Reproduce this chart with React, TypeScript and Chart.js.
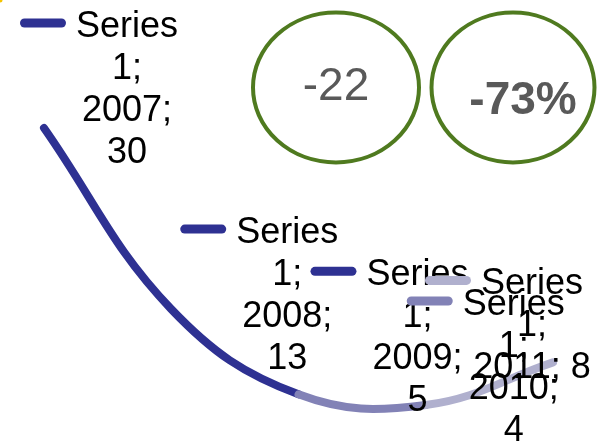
import React, { useEffect, useRef } from "react";
import { Chart, registerables } from "chart.js";

Chart.register(...registerables);

const seriesName = "Series 1";
const categories = ["2007", "2008", "2009", "2010", "2011"];
const values = [30, 13, 5, 4, 8];
const pointColors = ["#2E3192", "#2E3192", "#2E3192", "#8282B6", "#B0B0CE"];
// label anchor offsets (center of first text line relative to the point)
const labelOffsets = [
  [83, -104],
  [116, -79],
  [119, -122],
  [88, -103],
  [-21, -81],
];
// whether the value is kept on the same line as the category
const labelJoinLast = [false, false, false, false, true];
const deltaAbsolute = "-22";
const deltaPercent = "-73%";

const FONT = '"Liberation Sans", Arial, sans-serif';

const overlayPlugin = {
  id: "overlay",
  afterDatasetsDraw(chart: any) {
    const ctx = chart.ctx as CanvasRenderingContext2D;
    const meta = chart.getDatasetMeta(0);
    ctx.save();
    // circles
    const circles = [
      { cx: 336, cy: 87.5, rx: 83, ry: 75, text: deltaAbsolute, bold: false, ty: 84 },
      { cx: 513, cy: 87.5, rx: 81.5, ry: 75, text: deltaPercent, bold: true, ty: 97.5 },
    ];
    circles.forEach((c) => {
      ctx.beginPath();
      ctx.ellipse(c.cx, c.cy, c.rx, c.ry, 0, 0, Math.PI * 2);
      ctx.lineWidth = 4;
      ctx.strokeStyle = "#4F7A1F";
      ctx.stroke();
      ctx.font = `${c.bold ? "bold " : ""}46px ${FONT}`;
      ctx.fillStyle = "#595959";
      ctx.textAlign = "center";
      ctx.textBaseline = "alphabetic";
      ctx.fillText(c.text, c.cx + (c.bold ? 10 : 0), c.ty + 0.358 * 46);
    });

    // data labels
    const size = 36;
    const lh = 42;
    ctx.font = `${size}px ${FONT}`;
    ctx.textBaseline = "alphabetic";
    meta.data.forEach((pt: any, i: number) => {
      const [name, num] = seriesName.split(" ");
      const lines = labelJoinLast[i]
        ? [name, `${num};`, `${categories[i]}; ${values[i]}`]
        : [name, `${num};`, `${categories[i]};`, `${values[i]}`];
      const cx = pt.x + labelOffsets[i][0];
      const cy = pt.y + labelOffsets[i][1];
      // key
      const w0 = ctx.measureText(lines[0]).width;
      const keyRight = cx - w0 / 2 - 10;
      ctx.beginPath();
      ctx.moveTo(keyRight - 46 + 4.5, cy - 1);
      ctx.lineTo(keyRight - 4.5, cy - 1);
      ctx.lineWidth = 9;
      ctx.lineCap = "round";
      ctx.strokeStyle = pointColors[i];
      ctx.stroke();
      ctx.fillStyle = "#000000";
      ctx.textAlign = "center";
      lines.forEach((t, k) => {
        ctx.fillText(t, cx, cy + k * lh + 0.358 * size);
      });
    });

    // tiny yellow mark in corner
    ctx.beginPath();
    ctx.arc(0, 0, 2.5, 0, Math.PI * 2);
    ctx.fillStyle = "#F5C400";
    ctx.fill();
    ctx.restore();
  },
};

export default function App() {
  const ref = useRef<HTMLCanvasElement | null>(null);
  useEffect(() => {
    if (!ref.current) return;
    const chart = new Chart(ref.current, {
      type: "line",
      data: {
        labels: categories,
        datasets: [
          {
            label: seriesName,
            data: values,
            borderColor: pointColors[0],
            borderWidth: 8,
            borderCapStyle: "round",
            borderJoinStyle: "round",
            tension: 0.4,
            pointRadius: 0,
            pointHoverRadius: 0,
            clip: false as any,
            segment: {
              borderColor: (c: any) => pointColors[c.p1DataIndex],
            },
          } as any,
        ],
      },
      options: {
        responsive: false,
        animation: false,
        events: [],
        layout: { padding: { left: 44, right: 44, top: 128, bottom: 39 } },
        elements: { line: { capBezierPoints: false } },
        scales: {
          x: { type: "category", display: false, offset: false },
          y: { display: false, min: 4, max: 30 },
        },
        plugins: { legend: { display: false }, tooltip: { enabled: false } },
      },
      plugins: [overlayPlugin],
    });
    return () => chart.destroy();
  }, []);
  return (
    <div style={{ position: "fixed", left: 0, top: 0, width: 597, height: 444, background: "#fff" }}>
      <canvas ref={ref} width={597} height={444} style={{ display: "block" }} />
    </div>
  );
}
